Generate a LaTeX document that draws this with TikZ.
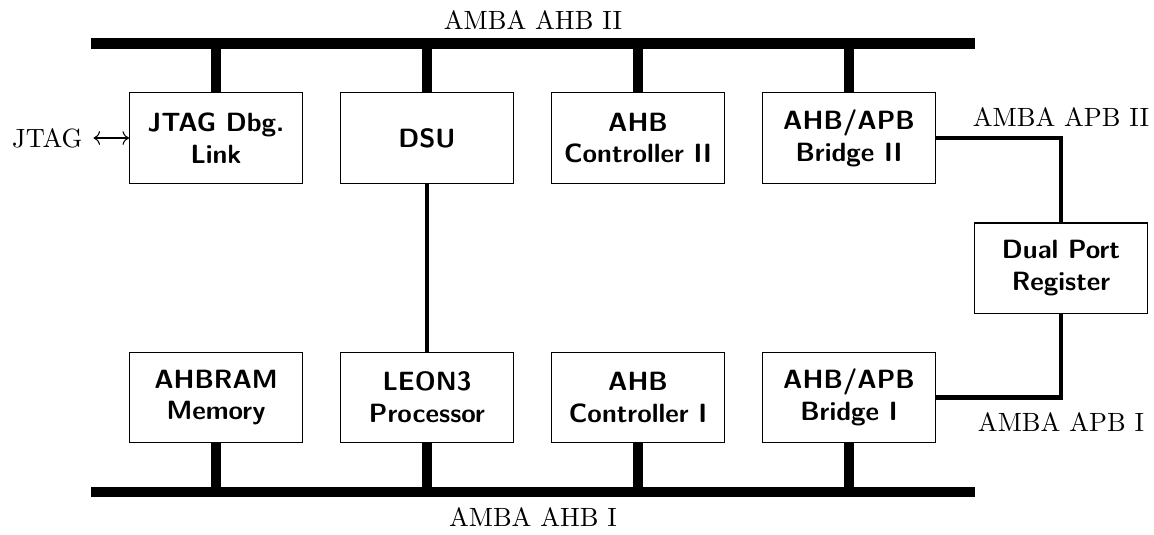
\documentclass[tikz,border=0pt]{standalone}
\usepackage{tikz}
\usetikzlibrary{arrows.meta,positioning,calc}
\tikzset{unit/.style={rectangle,draw,fill=white,minimum width=2.3cm,minimum height=1.2cm,inner sep=2pt,align=center,font=\sffamily\bfseries},bus/.style={line width=4.1pt},stub/.style={line width=4pt},apb/.style={line width=1.6pt},tag/.style={inner sep=2pt}}

\begin{document}
\begin{tikzpicture}[x=1cm,y=1cm]
\useasboundingbox (0,0) rectangle (15.36,7.108);
% buses
\coordinate (ahb2l) at (1.211,6.529);
\coordinate (ahb2r) at (12.977,6.529);
\coordinate (ahb1l) at (1.211,0.559);
\coordinate (ahb1r) at (12.977,0.559);
\draw[bus] (ahb2l) -- (ahb2r);
\draw[bus] (ahb1l) -- (ahb1r);
\node[tag] (ahb2lbl) at (7.094,6.841) {AMBA AHB II};
\node[tag] (ahb1lbl) at (7.094,0.226) {AMBA AHB I};
% units on AHB II
\node[unit] (jtag) at (2.875,5.271) {JTAG Dbg.\\Link};
\node[unit] (dsu) at (5.683,5.271) {DSU};
\node[unit] (ctrl2) at (8.492,5.271) {AHB\\Controller II};
\node[unit] (br2) at (11.300,5.271) {AHB/APB\\Bridge II};
% units on AHB I
\node[unit] (ram) at (2.875,1.817) {AHBRAM\\Memory};
\node[unit] (leon) at (5.683,1.817) {LEON3\\Processor};
\node[unit] (ctrl1) at (8.492,1.817) {AHB\\Controller I};
\node[unit] (br1) at (11.300,1.817) {AHB/APB\\Bridge I};
\node[unit] (dpr) at (14.122,3.540) {Dual Port\\Register};
\foreach \u in {jtag,dsu,ctrl2,br2}{\draw[stub] (\u.north) -- (\u.north |- ahb2l);}
\foreach \u in {ram,leon,ctrl1,br1}{\draw[stub] (\u.south) -- (\u.south |- ahb1l);}
\draw[apb] (dsu.south) -- (leon.north);
\draw[apb] (br2.east) -- (br2.east -| dpr.north) -- (dpr.north);
\draw[apb] (br1.east) -- (br1.east -| dpr.south) -- (dpr.south);
\node[tag] (apb2lbl) at (14.122,5.550) {AMBA APB II};
\node[tag] (apb1lbl) at (14.122,1.491) {AMBA APB I};
\node[inner sep=1pt,anchor=west] (jtagin) at (0.12,5.271) {JTAG};
\draw[<->] ([xshift=3pt]jtagin.east) -- (jtag.west);
\end{tikzpicture}
\end{document}
